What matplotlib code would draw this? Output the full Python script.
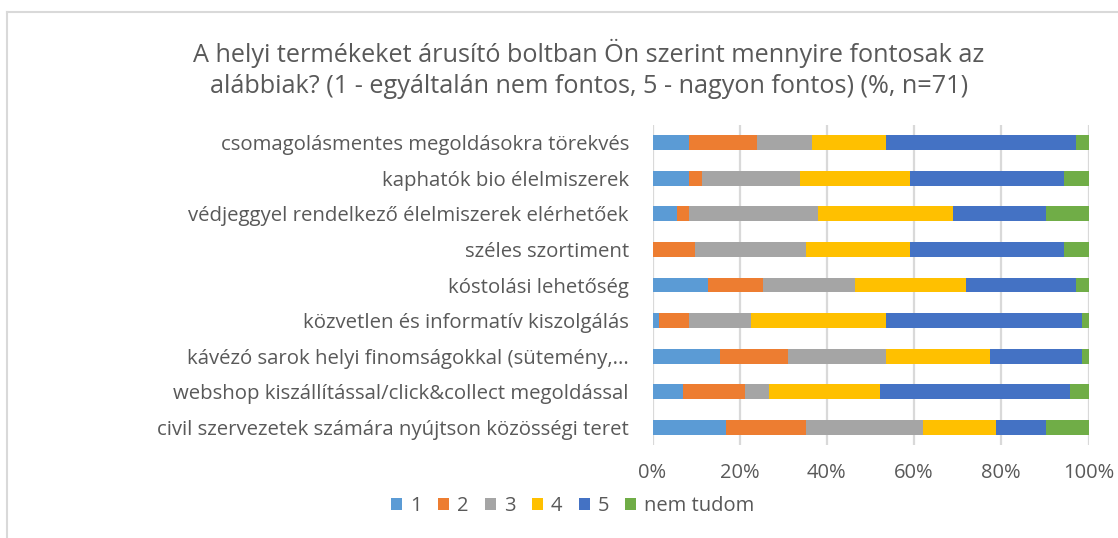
import matplotlib
matplotlib.use("Agg")
import matplotlib.pyplot as plt
from matplotlib.lines import Line2D
from matplotlib.patches import Patch
import numpy as np

plt.rcParams['font.family'] = ['Open Sans', 'DejaVu Sans']

categories = [
    "csomagolásmentes megoldásokra törekvés",
    "kaphatók bio élelmiszerek",
    "védjeggyel rendelkező élelmiszerek elérhetőek",
    "széles szortiment",
    "kóstolási lehetőség",
    "közvetlen és informatív kiszolgálás",
    "kávézó sarok helyi finomságokkal (sütemény,...",
    "webshop kiszállítással/click&collect megoldással",
    "civil szervezetek számára nyújtson közösségi teret",
]
series_names = ["1", "2", "3", "4", "5", "nem tudom"]
n_resp = 71
# response counts per category (n=71)
s1 = [6, 6, 4, 0, 9, 1, 11, 5, 12]
s2 = [11, 2, 2, 7, 9, 5, 11, 10, 13]
s3 = [9, 16, 21, 18, 15, 10, 16, 4, 19]
s4 = [12, 18, 22, 17, 18, 22, 17, 18, 12]
s5 = [31, 25, 15, 25, 18, 32, 15, 31, 8]
s_nt = [2, 4, 7, 4, 2, 1, 1, 3, 7]
colors = ["#5b9bd5", "#ed7d31", "#a5a5a5", "#ffc000", "#4472c4", "#70ad47"]
xticks = [0, 20, 40, 60, 80, 100]
xticklabels = ["0%", "20%", "40%", "60%", "80%", "100%"]

title = ("A helyi termékeket árusító boltban Ön szerint mennyire fontosak az\n"
         "alábbiak? (1 - egyáltalán nem fontos, 5 - nagyon fontos) (%, n=71)")

txt = "#595959"
fig = plt.figure(figsize=(11.18, 5.38), dpi=100)
ax = fig.add_axes([652.5/1118, 1-445/538, 436/1118, 320/538])

data = [s1, s2, s3, s4, s5, s_nt]
y = np.arange(len(categories))
left = np.zeros(len(categories))
for vals, col, name in zip(data, colors, series_names):
    pct = np.array(vals) / n_resp * 100
    ax.barh(y, pct, left=left, height=0.42, color=col, label=name, zorder=3)
    left += pct

ax.set_xlim(0, 100)
ax.set_ylim(len(categories) - 0.5, -0.5)
ax.set_yticks(y)
ax.set_yticklabels(categories, fontsize=14.7, color=txt)
ax.set_xticks(xticks)
ax.set_xticklabels(xticklabels, fontsize=14.5, color=txt)
ax.tick_params(axis='both', length=0)
ax.tick_params(axis='y', pad=17)
ax.tick_params(axis='x', pad=13)
ax.grid(axis='x', color="#d9d9d9", linewidth=1.6, zorder=0)
for s in ax.spines.values():
    s.set_visible(False)

fig.text(589/1118, 1-69/538, title, ha='center', va='center', fontsize=18.2,
         color=txt, linespacing=1.33)

handles = [Patch(facecolor=c, label=n) for c, n in zip(colors, series_names)]
fig.legend(handles=handles, loc='center', bbox_to_anchor=(573/1118, 1-506/538),
           ncol=6, frameon=False, fontsize=14.5, labelcolor=txt,
           handlelength=0.55, handleheight=0.55, handletextpad=0.4, columnspacing=0.8)

# chart border (top and left visible)
fig.add_artist(Line2D([7/1118, 1], [1-11.5/538, 1-11.5/538], color="#d9d9d9", lw=1.5,
                      transform=fig.transFigure))
fig.add_artist(Line2D([7/1118, 7/1118], [0, 1-11.5/538], color="#d9d9d9", lw=1.5,
                      transform=fig.transFigure))

fig.savefig("out.png", dpi=100)
